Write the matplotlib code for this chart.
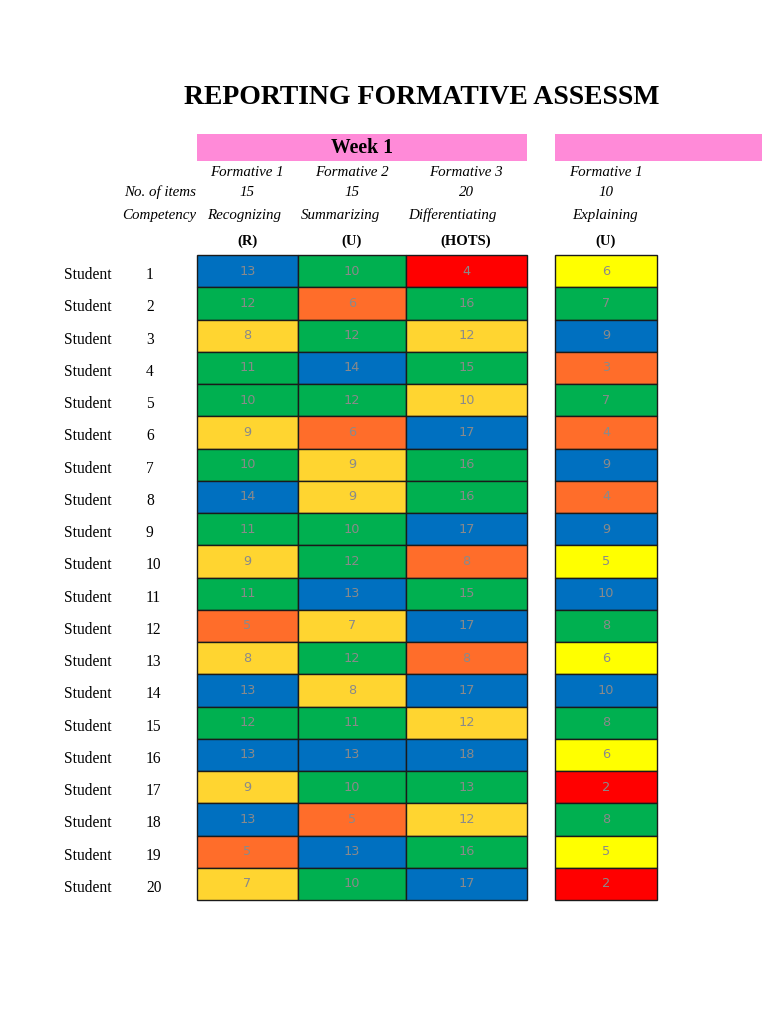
import matplotlib.pyplot as plt
from matplotlib.patches import Rectangle

# scores per student (20 students)
f1_scores = [13, 12, 8, 11, 10, 9, 10, 14, 11, 9, 11, 5, 8, 13, 12, 13, 9, 13, 5, 7]
f2_scores = [10, 6, 12, 14, 12, 6, 9, 9, 10, 12, 13, 7, 12, 8, 11, 13, 10, 5, 13, 10]
f3_scores = [4, 16, 12, 15, 10, 17, 16, 16, 17, 8, 15, 17, 8, 17, 12, 18, 13, 12, 16, 17]
w2_scores = [6, 7, 9, 3, 7, 4, 9, 4, 9, 5, 10, 8, 6, 10, 8, 6, 2, 8, 5, 2]

formatives = ["Formative 1", "Formative 2", "Formative 3", "Formative 1"]
num_items = [15, 15, 20, 10]
competency = ["Recognizing", "Summarizing", "Differentiating", "Explaining"]
level = ["(R)", "(U)", "(HOTS)", "(U)"]
students = list(range(1, 21))

columns = [f1_scores, f2_scores, f3_scores, w2_scores]

# layout in pixels
col_edges = [(197, 298), (298, 406), (406, 527), (555, 657)]
grid_top, grid_bot = 255, 900
row_h = (grid_bot - grid_top) / len(students)

BLUE = "#0070C0"
GREEN = "#00B050"
GOLD = "#FFD530"
YELLOW = "#FFFF00"
ORANGE = "#FF6D2A"
RED = "#FF0000"


def cell_color(score, items, mid):
    pct = score / items
    if pct >= 0.85:
        return BLUE
    if pct >= 0.65:
        return GREEN
    if pct >= 0.45:
        return mid
    if pct >= 0.25:
        return ORANGE
    return RED


fig = plt.figure(figsize=(7.68, 10.24), dpi=100)
ax = fig.add_axes([0, 0, 1, 1])
ax.set_xlim(0, 768)
ax.set_ylim(1024, 0)
ax.axis("off")

serif = ["Liberation Serif", "DejaVu Serif"]

ax.text(422, 97, "REPORTING FORMATIVE ASSESSM", family=serif, fontsize=20.0,
        fontweight="bold", ha="center", va="center")

# pink header bars
ax.add_patch(Rectangle((197, 134), 330, 27, facecolor="#FF8AD8", edgecolor="none"))
ax.add_patch(Rectangle((555, 134), 207, 27, facecolor="#FF8AD8", edgecolor="none"))
ax.text(362, 148, "Week 1", family=serif, fontsize=14.2, fontweight="bold",
        ha="center", va="center")

ax.text(196, 192, "No. of items", family=serif, fontsize=10.8, style="italic",
        ha="right", va="center")
ax.text(196, 215, "Competency", family=serif, fontsize=10.8, style="italic",
        ha="right", va="center")

header_x = [247, 352, 466, 606]
comp_x = [244, 340, 452, 605]
for j in range(len(columns)):
    ax.text(header_x[j], 172, formatives[j], family=serif, fontsize=10.8,
            style="italic", ha="center", va="center")
    ax.text(header_x[j], 192, str(num_items[j]), family=serif, fontsize=10.8,
            style="italic", ha="center", va="center")
    ax.text(comp_x[j], 215, competency[j], family=serif, fontsize=10.8,
            style="italic", ha="center", va="center")
    ax.text(header_x[j], 241, level[j], family=serif, fontsize=10.5,
            fontweight="bold", ha="center", va="center")

for i, s in enumerate(students):
    yc = grid_top + (i + 0.5) * row_h
    ax.text(64, yc + 4, "Student", family=serif, fontsize=11.2, ha="left", va="center")
    ax.text(146, yc + 4, str(s), family=serif, fontsize=11.2, ha="left", va="center")

for j, col in enumerate(columns):
    x0, x1 = col_edges[j]
    mid = YELLOW if j == 3 else GOLD
    for i, v in enumerate(col):
        y0 = grid_top + i * row_h
        ax.add_patch(Rectangle((x0, y0), x1 - x0, row_h,
                               facecolor=cell_color(v, num_items[j], mid),
                               edgecolor="#1a1a1a", linewidth=1.0))
        ax.text((x0 + x1) / 2, y0 + row_h / 2, str(v), family="DejaVu Sans",
                fontsize=9.3, color="#8a8a8a", ha="center", va="center")

fig.savefig("out.png", dpi=100)
